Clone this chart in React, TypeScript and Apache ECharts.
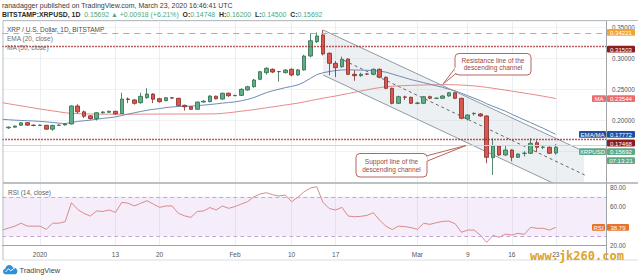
import React, { useEffect, useRef } from 'react';
import * as echarts from 'echarts';

// ---------- categories (one per day, 2019-12-26 .. 2020-03-31) ----------
const START_UTC = Date.UTC(2019, 11, 26);
const DAY_COUNT = 97;
const pad = (n: number) => String(n).padStart(2, '0');
const DATES: string[] = Array.from({ length: DAY_COUNT }, (_, k) => {
  const d = new Date(START_UTC + k * 86400000);
  return `${d.getUTCFullYear()}-${pad(d.getUTCMonth() + 1)}-${pad(d.getUTCDate())}`;
});

const TICK_LABELS: Record<string, string> = {
  '2020-01-01': '2020',
  '2020-01-13': '13',
  '2020-01-20': '20',
  '2020-02-01': 'Feb',
  '2020-02-10': '10',
  '2020-02-17': '17',
  '2020-03-01': 'Mar',
  '2020-03-09': '9',
  '2020-03-16': '16',
  '2020-03-23': '23',
};

// price-scale labels hidden behind the value tags
const HIDDEN_PRICE_LABELS = [0.15];
const HIDDEN_RSI_LABELS = [40];

// ---------- daily candles [date, open, close, low, high] ----------
const CANDLES: [string, number, number, number, number][] = [
  ['2019-12-27', 0.1882, 0.1893, 0.1862, 0.1902],
  ['2019-12-28', 0.1893, 0.1910, 0.1885, 0.1918],
  ['2019-12-29', 0.1922, 0.1962, 0.1915, 0.1972],
  ['2019-12-30', 0.1965, 0.1925, 0.1912, 0.1975],
  ['2019-12-31', 0.1925, 0.1920, 0.1905, 0.1935],
  ['2020-01-01', 0.1920, 0.1925, 0.1912, 0.1935],
  ['2020-01-02', 0.1922, 0.1860, 0.1850, 0.1930],
  ['2020-01-03', 0.1860, 0.1920, 0.1835, 0.1935],
  ['2020-01-04', 0.1922, 0.1926, 0.1912, 0.1938],
  ['2020-01-05', 0.1928, 0.1944, 0.1920, 0.1958],
  ['2020-01-06', 0.1944, 0.2234, 0.1935, 0.2245],
  ['2020-01-07', 0.2234, 0.2140, 0.2110, 0.2262],
  ['2020-01-08', 0.2140, 0.2068, 0.2040, 0.2160],
  ['2020-01-09', 0.2075, 0.2030, 0.2015, 0.2085],
  ['2020-01-10', 0.2030, 0.2126, 0.2000, 0.2135],
  ['2020-01-11', 0.2126, 0.2137, 0.2110, 0.2150],
  ['2020-01-12', 0.2132, 0.2148, 0.2120, 0.2160],
  ['2020-01-13', 0.2148, 0.2108, 0.2095, 0.2155],
  ['2020-01-14', 0.2112, 0.2347, 0.2105, 0.2448],
  ['2020-01-15', 0.2347, 0.2340, 0.2280, 0.2372],
  ['2020-01-16', 0.2332, 0.2277, 0.2255, 0.2345],
  ['2020-01-17', 0.2287, 0.2390, 0.2270, 0.2448],
  ['2020-01-18', 0.2368, 0.2427, 0.2350, 0.2520],
  ['2020-01-19', 0.2427, 0.2342, 0.2280, 0.2440],
  ['2020-01-20', 0.2352, 0.2303, 0.2290, 0.2365],
  ['2020-01-21', 0.2320, 0.2368, 0.2310, 0.2380],
  ['2020-01-22', 0.2365, 0.2362, 0.2350, 0.2378],
  ['2020-01-23', 0.2358, 0.2240, 0.2230, 0.2365],
  ['2020-01-24', 0.2245, 0.2222, 0.2160, 0.2255],
  ['2020-01-25', 0.2222, 0.2180, 0.2170, 0.2230],
  ['2020-01-26', 0.2180, 0.2298, 0.2175, 0.2305],
  ['2020-01-27', 0.2298, 0.2310, 0.2290, 0.2330],
  ['2020-01-28', 0.2303, 0.2395, 0.2295, 0.2405],
  ['2020-01-29', 0.2392, 0.2350, 0.2340, 0.2400],
  ['2020-01-30', 0.2345, 0.2440, 0.2335, 0.2450],
  ['2020-01-31', 0.2440, 0.2400, 0.2380, 0.2450],
  ['2020-02-01', 0.2400, 0.2405, 0.2392, 0.2415],
  ['2020-02-02', 0.2405, 0.2503, 0.2395, 0.2520],
  ['2020-02-03', 0.2492, 0.2545, 0.2480, 0.2560],
  ['2020-02-04', 0.2545, 0.2653, 0.2530, 0.2670],
  ['2020-02-05', 0.2665, 0.2787, 0.2650, 0.2800],
  ['2020-02-06', 0.2771, 0.2842, 0.2740, 0.2860],
  ['2020-02-07', 0.2826, 0.2782, 0.2765, 0.2840],
  ['2020-02-08', 0.2787, 0.2790, 0.2626, 0.2800],
  ['2020-02-09', 0.2771, 0.2814, 0.2760, 0.2830],
  ['2020-02-10', 0.2826, 0.2734, 0.2715, 0.2840],
  ['2020-02-11', 0.2734, 0.2816, 0.2720, 0.2830],
  ['2020-02-12', 0.2816, 0.3040, 0.2805, 0.3060],
  ['2020-02-13', 0.3040, 0.3287, 0.3020, 0.3410],
  ['2020-02-14', 0.3271, 0.3363, 0.3250, 0.3420],
  ['2020-02-15', 0.3380, 0.3073, 0.3050, 0.3460],
  ['2020-02-16', 0.3084, 0.2922, 0.2730, 0.3100],
  ['2020-02-17', 0.2922, 0.2852, 0.2700, 0.2960],
  ['2020-02-18', 0.2868, 0.2987, 0.2850, 0.3030],
  ['2020-02-19', 0.2992, 0.2745, 0.2730, 0.3000],
  ['2020-02-20', 0.2745, 0.2723, 0.2640, 0.2810],
  ['2020-02-21', 0.2723, 0.2745, 0.2705, 0.2770],
  ['2020-02-22', 0.2750, 0.2748, 0.2735, 0.2765],
  ['2020-02-23', 0.2745, 0.2826, 0.2730, 0.2840],
  ['2020-02-24', 0.2826, 0.2697, 0.2680, 0.2840],
  ['2020-02-25', 0.2697, 0.2519, 0.2505, 0.2710],
  ['2020-02-26', 0.2519, 0.2277, 0.2260, 0.2530],
  ['2020-02-27', 0.2277, 0.2384, 0.2265, 0.2400],
  ['2020-02-28', 0.2380, 0.2374, 0.2330, 0.2400],
  ['2020-02-29', 0.2374, 0.2277, 0.2265, 0.2385],
  ['2020-03-01', 0.2277, 0.2282, 0.2260, 0.2300],
  ['2020-03-02', 0.2277, 0.2384, 0.2265, 0.2395],
  ['2020-03-03', 0.2384, 0.2358, 0.2345, 0.2400],
  ['2020-03-04', 0.2358, 0.2360, 0.2345, 0.2370],
  ['2020-03-05', 0.2358, 0.2395, 0.2350, 0.2410],
  ['2020-03-06', 0.2395, 0.2448, 0.2385, 0.2460],
  ['2020-03-07', 0.2448, 0.2358, 0.2345, 0.2455],
  ['2020-03-08', 0.2358, 0.2035, 0.2020, 0.2365],
  ['2020-03-09', 0.2025, 0.2089, 0.2000, 0.2100],
  ['2020-03-10', 0.2110, 0.2116, 0.2080, 0.2130],
  ['2020-03-11', 0.2105, 0.2073, 0.2060, 0.2120],
  ['2020-03-12', 0.2073, 0.1406, 0.1310, 0.2085],
  ['2020-03-13', 0.1400, 0.1589, 0.1121, 0.1713],
  ['2020-03-14', 0.1589, 0.1444, 0.1430, 0.1600],
  ['2020-03-15', 0.1444, 0.1524, 0.1430, 0.1590],
  ['2020-03-16', 0.1524, 0.1406, 0.1340, 0.1535],
  ['2020-03-17', 0.1406, 0.1460, 0.1395, 0.1470],
  ['2020-03-18', 0.1470, 0.1473, 0.1420, 0.1505],
  ['2020-03-19', 0.1471, 0.1632, 0.1460, 0.1713],
  ['2020-03-20', 0.1642, 0.1568, 0.1490, 0.1680],
  ['2020-03-21', 0.1568, 0.1570, 0.1540, 0.1590],
  ['2020-03-22', 0.1568, 0.1471, 0.1460, 0.1580],
  ['2020-03-23', 0.14748, 0.15692, 0.145, 0.162],
];

// ---------- indicators, one value per day starting 2019-12-26 ----------
const EMA20 = [
  0.2019, 0.2012, 0.2006, 0.2001, 0.1996, 0.1992, 0.1986, 0.1978, 0.1968, 0.1958, 0.1950,
  0.1968, 0.1985, 0.1996, 0.2005, 0.2020, 0.2035, 0.2045, 0.2058, 0.2080, 0.2102,
  0.2125, 0.2145, 0.2165, 0.2180, 0.2192, 0.2208, 0.2218, 0.2225, 0.2230, 0.2232,
  0.2240, 0.2248, 0.2258, 0.2268, 0.2280, 0.2290, 0.2300, 0.2318, 0.2340, 0.2370,
  0.2410, 0.2450, 0.2480, 0.2505, 0.2530, 0.2550, 0.2575, 0.2620, 0.2680, 0.2740,
  0.2770, 0.2790, 0.2805, 0.2815, 0.2818, 0.2815, 0.2812, 0.2810, 0.2805, 0.2795,
  0.2780, 0.2750, 0.2720, 0.2690, 0.2660, 0.2635, 0.2610, 0.2585, 0.2560, 0.2535,
  0.2505, 0.2480, 0.2440, 0.2400, 0.2360, 0.2320, 0.2270, 0.2230, 0.2190, 0.2150,
  0.2100, 0.2055, 0.2010, 0.1965, 0.1920, 0.1875, 0.1825, 0.1777,
];
const MA50 = [
  0.2287, 0.2270, 0.2253, 0.2236, 0.2219, 0.2202, 0.2186, 0.2170, 0.2155, 0.2140, 0.2125,
  0.2115, 0.2110, 0.2106, 0.2104,
  0.2103, 0.2102, 0.2102, 0.2101, 0.2101, 0.2101, 0.2102, 0.2102, 0.2103, 0.2103,
  0.2104, 0.2104, 0.2104, 0.2105, 0.2105, 0.2105, 0.2105, 0.2106, 0.2106,
  0.2108, 0.2115, 0.2125, 0.2137, 0.2150, 0.2162, 0.2175, 0.2190, 0.2205, 0.2220,
  0.2235, 0.2250, 0.2265, 0.2280, 0.2300, 0.2320, 0.2340, 0.2360, 0.2378, 0.2395,
  0.2415, 0.2435, 0.2455, 0.2475, 0.2495, 0.2515, 0.2530, 0.2545, 0.2552, 0.2558,
  0.2563, 0.2567, 0.2570, 0.2573, 0.2575, 0.2577, 0.2578, 0.2578, 0.2576, 0.2572,
  0.2566, 0.2558, 0.2548, 0.2535, 0.2520, 0.2505, 0.2490, 0.2474, 0.2458, 0.2442,
  0.2426, 0.2410, 0.2392, 0.2373, 0.2354,
];
const RSI14 = [
  36, 38, 40, 43, 40, 40, 40, 36.7, 43, 43,
  44.5, 64, 57, 53, 50.3, 55.5, 55, 56.5, 54, 64.3,
  63.5, 60.6, 63.3, 66, 62.6, 59.2, 60.6, 60.6, 53.1, 50.5,
  49, 55, 55.5, 59, 56.5, 60.6, 58.2, 60, 62.6, 65,
  70, 72.8, 74.2, 72, 70.8, 71.8, 65, 69.5, 75.2, 79,
  80.3, 64, 58, 56.5, 59.2, 50.3, 49.6, 50, 51, 53.7,
  46, 40, 36.5, 40, 39.5, 38.5, 36.7, 42.9, 41.8, 43.5,
  44.8, 45.2, 42.5, 33.7, 36, 36, 30.9, 23.4, 30.5, 28.6,
  31.9, 30.9, 32.7, 31.6, 38.8, 37.8, 37.8, 36, 38.79,
];

// ---------- horizontal levels & last values ----------
const LEVEL_ORANGE = 0.34221;
const LEVEL_RED_HIGH = 0.31503;
const LEVEL_RED_LOW = 0.17468;
const LAST_CLOSE = 0.15692;
const LAST_EMA = 0.17772;
const LAST_MA = 0.23544;
const LAST_RSI = 38.79;

// ---------- descending channel drawing: [day index, price] ----------
const CHANNEL_UPPER = [[51, 0.346], [92.2, 0.1514]];
const CHANNEL_LOWER = [[51, 0.2734], [88.5, 0.0946]];
const CHANNEL_MID = [[54.3, 0.297], [92.6, 0.1121]];
const CHANNEL_FILL = [[51, 0.346], [92.5, 0.1500], [92.5, 0.10], [87.4, 0.10], [51, 0.2734]];

const FONT = 'Liberation Sans';

const CLOUD_D =
  'M4 12 C1.6 12 0 10.3 0 8.3 C0 6.4 1.4 4.9 3.2 4.7 C3.8 2 6 0 8.8 0 C11.2 0 13.2 1.5 14 3.6 C14.4 3.5 14.8 3.4 15.2 3.4 C17.9 3.4 20 5.5 20 8 C20 10.3 18.2 12 16 12 Z';
let cloudRegistered = false;

const near = (list: number[], v: number) => list.some((x) => Math.abs(x - v) < 1e-9);

export default function App() {
  const ref = useRef<HTMLDivElement>(null);

  useEffect(() => {
    if (!cloudRegistered) {
      echarts.graphic.registerShape('tvcloud', echarts.graphic.extendPath(CLOUD_D, {}) as any);
      cloudRegistered = true;
    }
    const el = ref.current!;
    const chart = echarts.init(el, null, { renderer: 'svg' });

    const isTick = (idx: number) => !!TICK_LABELS[DATES[idx]];
    const gridLeft = 2.26;
    const gridWidth = 603.84;

    const option: any = {
      animation: false,
      backgroundColor: '#ffffff',
      textStyle: { fontFamily: FONT },
      grid: [
        { left: gridLeft, top: 21.3, width: gridWidth, height: 161.2 },
        { left: gridLeft, top: 183, width: gridWidth, height: 62.7 },
      ],
      xAxis: [
        {
          type: 'category', gridIndex: 0, data: DATES, boundaryGap: false,
          axisLine: { show: false }, axisTick: { show: false }, axisLabel: { show: false },
          splitLine: { show: true, interval: isTick, lineStyle: { color: '#eceff2', width: 1 } },
        },
        {
          type: 'category', gridIndex: 1, data: DATES, boundaryGap: false,
          axisLine: { show: true, lineStyle: { color: '#9ea4a8', width: 1 } },
          axisTick: { show: false },
          axisLabel: {
            show: true, interval: isTick, formatter: (v: string) => TICK_LABELS[v] || '',
            fontSize: 6.5, color: '#555', margin: 5, fontFamily: FONT,
          },
          splitLine: { show: true, interval: isTick, lineStyle: { color: '#eceff2', width: 1 } },
        },
        { type: 'value', gridIndex: 0, min: 0, max: 96, show: false },
      ],
      yAxis: [
        {
          type: 'value', gridIndex: 0, position: 'right', min: 0.1, max: 0.36, interval: 0.05,
          axisLine: { show: false }, axisTick: { show: false },
          axisLabel: {
            formatter: (v: number) => (near(HIDDEN_PRICE_LABELS, v) ? '' : v.toFixed(5)),
            fontSize: 6.3, color: '#555', margin: 6,
            showMinLabel: false, showMaxLabel: false, fontFamily: FONT,
          },
          splitLine: { show: true, lineStyle: { color: '#f0f2f4' } },
        },
        {
          type: 'value', gridIndex: 1, position: 'right', min: 20, max: 84.09, interval: 20,
          axisLine: { show: false }, axisTick: { show: false },
          axisLabel: {
            formatter: (v: number) => (near(HIDDEN_RSI_LABELS, v) ? '' : v.toFixed(2)),
            fontSize: 6.3, color: '#555', margin: 4,
            showMaxLabel: false, fontFamily: FONT,
          },
          splitLine: { show: false },
        },
      ],
      series: [
        {
          type: 'custom', xAxisIndex: 2, yAxisIndex: 0, silent: true, z: 1, clip: true,
          data: [[0, 0.2]],
          renderItem: (_p: any, api: any) => ({
            type: 'polygon',
            shape: { points: CHANNEL_FILL.map((pt) => api.coord(pt)) },
            style: { fill: 'rgba(170,186,198,0.22)' },
          }),
        },
        {
          type: 'line', xAxisIndex: 2, yAxisIndex: 0, data: CHANNEL_MID, symbol: 'none', silent: true, z: 2,
          lineStyle: { color: '#5f666d', width: 1, type: [3, 3] },
        },
        {
          type: 'line', xAxisIndex: 0, yAxisIndex: 0, data: MA50, symbol: 'none', silent: true, z: 2,
          lineStyle: { color: '#e58a8a', width: 1 },
        },
        {
          type: 'line', xAxisIndex: 0, yAxisIndex: 0, data: EMA20, symbol: 'none', silent: true, z: 2,
          lineStyle: { color: '#6d8db5', width: 1 },
        },
        {
          type: 'line', xAxisIndex: 2, yAxisIndex: 0, data: CHANNEL_UPPER, symbol: 'none', silent: true, z: 2,
          lineStyle: { color: '#8f9aa3', width: 1 },
        },
        {
          type: 'line', xAxisIndex: 2, yAxisIndex: 0, data: CHANNEL_LOWER, symbol: 'none', silent: true, z: 2,
          lineStyle: { color: '#8f9aa3', width: 1 },
        },
        {
          type: 'candlestick', xAxisIndex: 0, yAxisIndex: 0, z: 3,
          data: CANDLES, encode: { x: 0, y: [1, 2, 3, 4] },
          barWidth: 4,
          itemStyle: {
            color: '#5fae86', color0: '#d9574f',
            borderColor: '#2f6a4b', borderColor0: '#842b27', borderWidth: 0.8,
          },
          markLine: {
            silent: true, symbol: ['none', 'none'], label: { show: false }, animation: false,
            data: [
              { yAxis: LAST_CLOSE, lineStyle: { color: '#cdd5d9', width: 1, type: 'solid' } },
              { yAxis: LEVEL_ORANGE, lineStyle: { color: '#f0a23a', width: 1.2, type: [6, 5] } },
              { yAxis: LEVEL_RED_HIGH, lineStyle: { color: '#a2262a', width: 1.3, type: [1.5, 1.5] } },
              { yAxis: LEVEL_RED_LOW, lineStyle: { color: '#a2262a', width: 1.3, type: [1.5, 1.5] } },
            ],
          },
        },
        {
          type: 'line', xAxisIndex: 1, yAxisIndex: 1, data: RSI14, symbol: 'none', silent: true, z: 3,
          lineStyle: { color: '#d98a8c', width: 1 },
          markArea: {
            silent: true,
            itemStyle: { color: 'rgba(190,140,225,0.16)' },
            data: [[{ yAxis: 30 }, { yAxis: 70 }]],
          },
          markLine: {
            silent: true, symbol: ['none', 'none'], label: { show: false },
            lineStyle: { color: '#c6a6d8', width: 1, type: [4, 3] },
            data: [{ yAxis: 70 }, { yAxis: 30 }],
          },
        },
      ],
    };
    chart.setOption(option);

    const yMain = (v: number) => chart.convertToPixel({ yAxisIndex: 0 } as any, v) as unknown as number;
    const yRsi = (v: number) => chart.convertToPixel({ yAxisIndex: 1 } as any, v) as unknown as number;

    const txt = (x: number, y: number, text: string, size: number, fill: string, extra: any = {}) => ({
      type: 'text', x, y, z: 60, silent: true,
      style: {
        text, fill, fontSize: size, fontFamily: FONT,
        align: extra.align || 'left', textAlign: extra.align || 'left',
        verticalAlign: 'middle', textVerticalAlign: 'middle',
        fontWeight: extra.fontWeight || 'normal',
      },
    });
    const tagBox = (x: number, yc: number, w: number, text: string, bg: string) => [
      { type: 'rect', z: 70, silent: true, shape: { x, y: yc - 3.4, width: w, height: 6.8, r: 1 }, style: { fill: bg } },
      {
        type: 'text', z: 71, silent: true, x: x + w / 2, y: yc + 0.2,
        style: {
          text, fill: '#ffffff', fontSize: 6.1, fontFamily: FONT,
          align: 'center', textAlign: 'center', verticalAlign: 'middle', textVerticalAlign: 'middle',
        },
      },
    ];
    const line = (x1: number, y1: number, x2: number, y2: number, color: string, w = 1) => ({
      type: 'line', z: 40, silent: true, shape: { x1, y1, x2, y2 }, style: { stroke: color, lineWidth: w },
    });

    // right-side tags, pushed apart like the platform does
    const emaY = yMain(LAST_EMA);
    const lowY = Math.max(yMain(LEVEL_RED_LOW), emaY + 8.7);
    const pxY = Math.max(yMain(LAST_CLOSE), lowY + 8.7);
    const timerY = pxY + 9;

    const calloutColor = '#b5675c';
    const calloutText = '#9a4a3f';

    const elements: any[] = [
      // header
      txt(2, 5.5, 'ranadagger published on TradingView.com, March 23, 2020 16:46:41 UTC', 7, '#3a3a3a'),
      {
        type: 'text', x: 2, y: 14.5, z: 60, silent: true,
        style: {
          text: '{b|BITSTAMP:XRPUSD, 1D}  {g|0.15692 ▲ +0.00918 (+6.21%)}  {b|O:}{g|0.14748}  {b|H:}{g|0.16200}  {b|L:}{g|0.14500}  {b|C:}{g|0.15692}',
          fontSize: 6.9, fontFamily: FONT, verticalAlign: 'middle', textVerticalAlign: 'middle',
          rich: {
            b: { fontWeight: 'bold', fill: '#2a2a2a', fontSize: 6.9, fontFamily: FONT },
            g: { fill: '#4aa97a', fontSize: 6.9, fontFamily: FONT },
          },
        },
      },
      // frame
      line(3, 20.5, 638, 20.5, '#b9bec2'),
      line(3, 20.5, 3, 260, '#b9bec2'),
      line(606.5, 20.5, 606.5, 260, '#9ea4a8'),
      line(3, 183, 638, 183, '#a8aeb2', 1.5),
      line(3, 260, 638, 260, '#d8dcdf'),
      // pane legend
      { type: 'rect', z: 55, silent: true, shape: { x: 5, y: 25, width: 100, height: 8 }, style: { fill: '#ffffff' } },
      txt(7, 29, 'XRP / U.S. Dollar, 1D, BITSTAMP', 6.5, '#4a4a4a'),
      txt(7, 38.5, 'EMA (20, close)', 6.5, '#707070'),
      txt(7, 47, 'MA (50, close)', 6.5, '#707070'),
      txt(8, 192, 'RSI (14, close)', 6.5, '#606060'),
      // resistance callout
      { type: 'polygon', z: 50, silent: true, shape: { points: [[456, 67], [456, 73.5], [443, 84]] }, style: { fill: '#fff', stroke: calloutColor, lineWidth: 1 } },
      { type: 'rect', z: 51, silent: true, shape: { x: 455, y: 53.5, width: 76, height: 21.5, r: 4 }, style: { fill: '#fff', stroke: calloutColor, lineWidth: 1 } },
      { type: 'rect', z: 52, silent: true, shape: { x: 454.6, y: 67.6, width: 2, height: 5.4 }, style: { fill: '#fff' } },
      txt(493, 60.5, 'Resistance line of the', 6.6, calloutText, { align: 'center' }),
      txt(493, 67.5, 'descending channel', 6.6, calloutText, { align: 'center' }),
      // support callout
      { type: 'polygon', z: 50, silent: true, shape: { points: [[426, 156], [426, 161.5], [466, 145.5]] }, style: { fill: '#fff', stroke: calloutColor, lineWidth: 1 } },
      { type: 'rect', z: 51, silent: true, shape: { x: 356, y: 153.5, width: 71, height: 23.5, r: 4 }, style: { fill: '#fff', stroke: calloutColor, lineWidth: 1 } },
      { type: 'rect', z: 52, silent: true, shape: { x: 425.4, y: 156.6, width: 2, height: 4.4 }, style: { fill: '#fff' } },
      txt(391.5, 161.8, 'Support line of the', 6.6, calloutText, { align: 'center' }),
      txt(391.5, 169, 'descending channel', 6.6, calloutText, { align: 'center' }),
      // price tags
      ...tagBox(607, yMain(LEVEL_ORANGE), 28, LEVEL_ORANGE.toFixed(5), '#f2a533'),
      ...tagBox(607, yMain(LEVEL_RED_HIGH), 28, LEVEL_RED_HIGH.toFixed(5), '#8e1c1e'),
      ...tagBox(592, yMain(LAST_MA), 14, 'MA', '#ee6b6b'),
      ...tagBox(607, yMain(LAST_MA), 28, LAST_MA.toFixed(5), '#ee6b6b'),
      ...tagBox(579, emaY, 27, 'EMA/MA', '#1f4f9e'),
      ...tagBox(607, emaY, 28, LAST_EMA.toFixed(5), '#1f4f9e'),
      ...tagBox(607, lowY, 28, LEVEL_RED_LOW.toFixed(5), '#8e1c1e'),
      ...tagBox(579, pxY, 27, 'XRPUSD', '#5fa886'),
      ...tagBox(607, pxY, 28, LAST_CLOSE.toFixed(5), '#5fa886'),
      ...tagBox(607, timerY, 28, '07:13:21', '#5fa886'),
      ...tagBox(592, yRsi(LAST_RSI), 13, 'RSI', '#e8742c'),
      ...tagBox(607, yRsi(LAST_RSI), 22, LAST_RSI.toFixed(2), '#e8742c'),
      // logo
      { type: 'tvcloud', z: 60, silent: true, x: 3, y: 265, scaleX: 0.72, scaleY: 0.78, style: { fill: '#2e90d6' } },
      { type: 'polyline', z: 61, silent: true, shape: { points: [[5.5, 272], [8.5, 268.8], [10.8, 270.8], [15, 267.6]] }, style: { stroke: '#ffffff', lineWidth: 1, fill: 'none' } },
      txt(19.5, 270.5, 'TradingView', 7.4, '#444444'),
      // watermark
      {
        type: 'text', x: 530, y: 255.5, z: 80, silent: true,
        style: {
          text: 'www.jk260.com', fill: '#dca42a', fontSize: 12, fontWeight: 'bold',
          fontFamily: 'DejaVu Sans Mono', verticalAlign: 'middle', textVerticalAlign: 'middle',
          align: 'left', textAlign: 'left',
        },
      },
    ];

    chart.setOption({ graphic: { elements } });

    return () => chart.dispose();
  }, []);

  return (
    <div
      ref={ref}
      style={{ position: 'fixed', left: 0, top: 0, width: 640, height: 276, background: '#ffffff' }}
    />
  );
}
